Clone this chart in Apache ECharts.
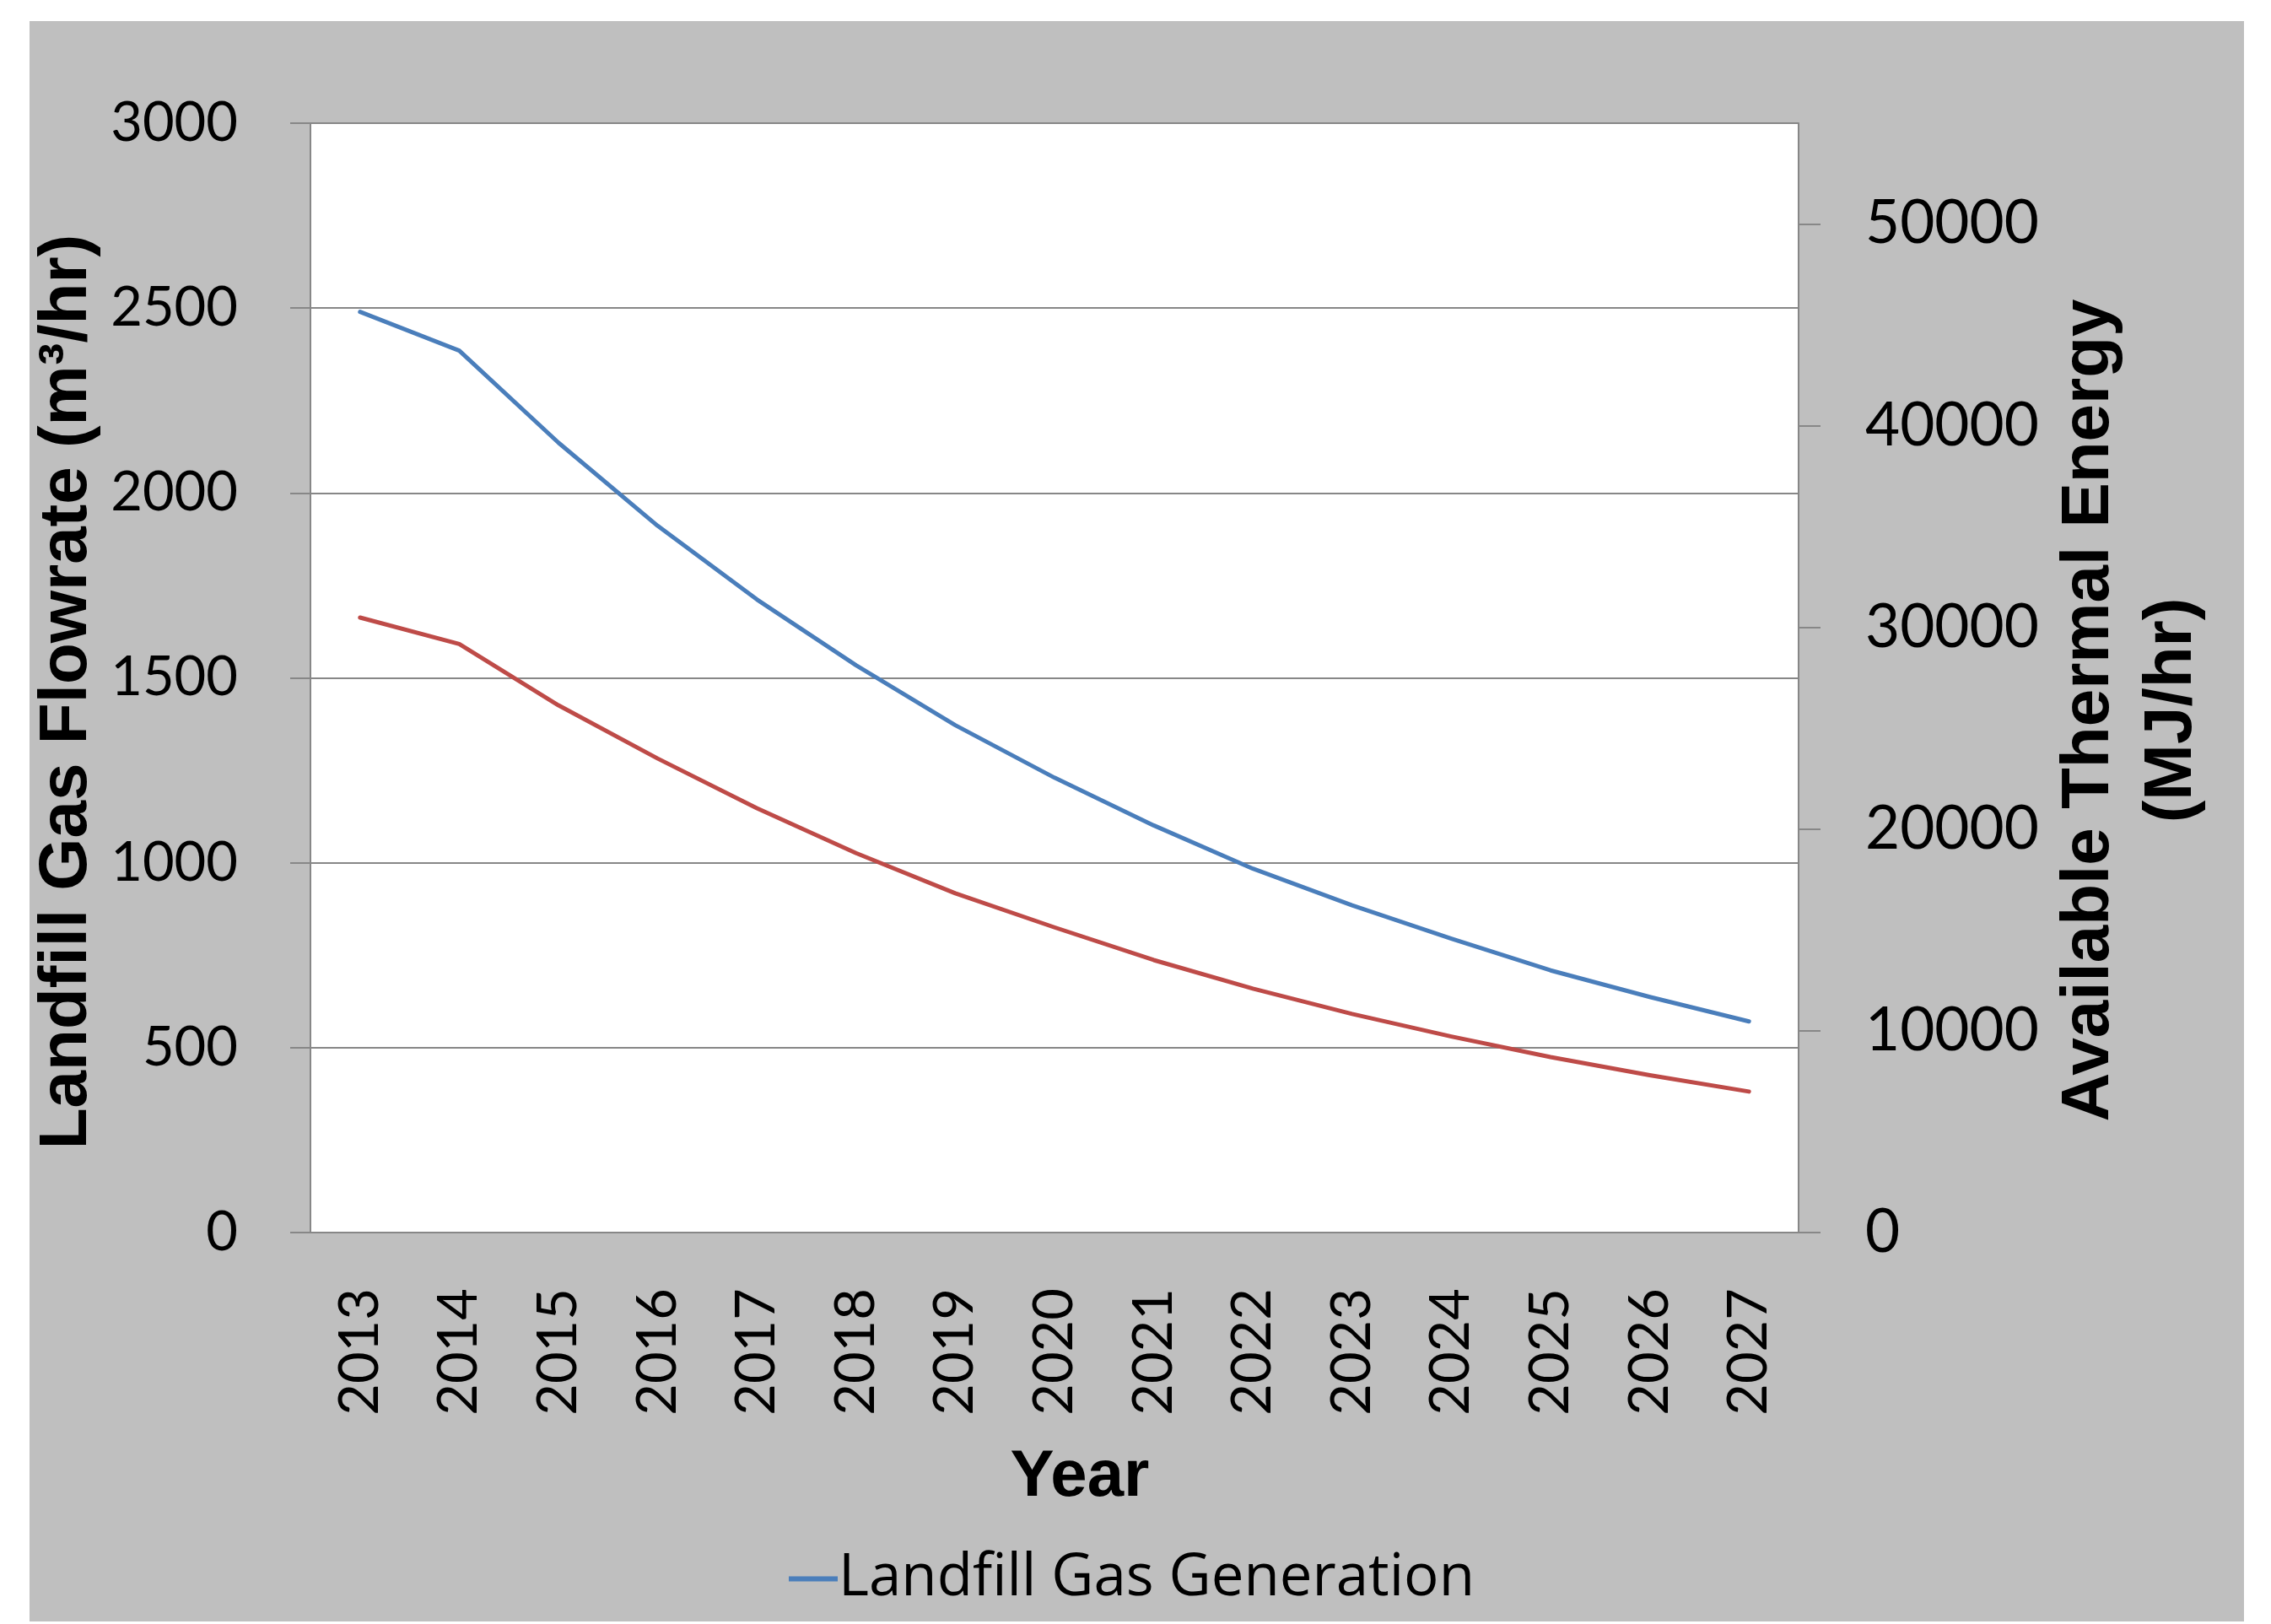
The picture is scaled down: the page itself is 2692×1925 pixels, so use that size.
<!DOCTYPE html>
<html>
<head>
<meta charset="utf-8">
<script src="https://cdn.jsdelivr.net/npm/echarts@6/dist/echarts.min.js"></script>
<style>
  html, body { margin: 0; padding: 0; background: #ffffff; }
  #frame { position: absolute; left: 35px; top: 25px; width: 2625px; height: 1897px; background: #bfbfbf; }
  #chart { position: absolute; left: 0; top: 0; width: 2692px; height: 1925px; }
</style>
</head>
<body>
<div id="frame"></div>
<div id="chart"></div>
<script>
// Projection years
const years = ['2013', '2014', '2015', '2016', '2017', '2018', '2019', '2020',
               '2021', '2022', '2023', '2024', '2025', '2026', '2027'];

// Landfill gas flowrate, m³/hr (left axis)
const gasFlow = [2490, 2385, 2136, 1911, 1712, 1534, 1372, 1230,
                 1101, 984, 885, 795, 709, 637, 571];

// Available thermal energy, MJ/hr (right axis)
const thermalEnergy = [30490, 29180, 26140, 23500, 21040, 18810, 16820, 15130,
                       13510, 12090, 10840, 9720, 8700, 7800, 6990];

// Tick values
const flowTicks = [0, 500, 1000, 1500, 2000, 2500, 3000];
const energyTicks = [0, 10000, 20000, 30000, 40000, 50000];

const AXIS_GREY = '#878787';
const LABEL_FONT = 'Lato';
const LEGEND_FONT = 'Open Sans';
const TITLE_FONT = 'Liberation Sans';
const plainNumber = v => String(v);

const chart = echarts.init(document.getElementById('chart'), null, { renderer: 'canvas' });

chart.setOption({
  backgroundColor: 'transparent',
  animation: false,
  grid: {
    left: 368, top: 146, right: 560, bottom: 464,
    show: true, backgroundColor: '#ffffff', borderWidth: 0,
    containLabel: false
  },
  legend: {
    data: ['Landfill Gas Generation'],
    left: 930, top: 1832,
    icon: 'rect', itemWidth: 58, itemHeight: 6, itemGap: 20,
    selectedMode: false,
    textStyle: { fontFamily: LEGEND_FONT, fontSize: 69, color: '#000000', padding: [0, 0, 0, -4] }
  },
  xAxis: {
    type: 'category',
    data: years,
    boundaryGap: true,
    axisLine: { show: true, lineStyle: { color: AXIS_GREY, width: 2 } },
    axisTick: { show: false },
    axisLabel: {
      interval: 0, rotate: 90, margin: 66,
      fontFamily: LABEL_FONT, fontSize: 65, color: '#000000',
      padding: [10, 0, 0, 0]
    },
    splitLine: { show: false },
    name: 'Year',
    nameLocation: 'middle',
    nameGap: 250,
    nameTextStyle: {
      fontFamily: TITLE_FONT, fontWeight: 'bold', fontSize: 78, color: '#000000',
      lineHeight: 80, padding: [0, 0, 0, 60]
    }
  },
  yAxis: [
    {
      type: 'value',
      position: 'left',
      min: flowTicks[0],
      max: flowTicks[flowTicks.length - 1],
      interval: 500,
      axisLine: { show: true, lineStyle: { color: AXIS_GREY, width: 2 } },
      axisTick: { show: true, inside: false, length: 24, lineStyle: { color: AXIS_GREY, width: 2 } },
      axisLabel: { margin: 86, formatter: plainNumber,
                   fontFamily: LABEL_FONT, fontSize: 65, color: '#000000' },
      splitLine: { show: true, lineStyle: { color: AXIS_GREY, width: 2 } },
      name: 'Landfill Gas Flowrate (m³/hr)',
      nameLocation: 'middle',
      nameGap: 208,
      nameRotate: 90,
      nameTextStyle: {
        fontFamily: TITLE_FONT, fontWeight: 'bold', fontSize: 80, color: '#000000',
        lineHeight: 80, padding: [0, 33, 0, 0]
      }
    },
    {
      type: 'value',
      position: 'right',
      min: 0,
      max: 55000,
      axisLine: { show: true, lineStyle: { color: AXIS_GREY, width: 2 } },
      axisTick: { show: true, inside: false, length: 26, customValues: energyTicks,
                  lineStyle: { color: AXIS_GREY, width: 2 } },
      axisLabel: { margin: 79, customValues: energyTicks, formatter: plainNumber,
                   fontFamily: LABEL_FONT, fontSize: 71, color: '#000000' },
      splitLine: { show: false },
      name: 'Available Thermal Energy\n(MJ/hr)',
      nameLocation: 'middle',
      nameGap: 274,
      nameRotate: 90,
      nameTextStyle: {
        fontFamily: TITLE_FONT, fontWeight: 'bold', fontSize: 80, color: '#000000',
        lineHeight: 98, align: 'center', padding: [0, 77, 0, 0]
      }
    }
  ],
  series: [
    {
      name: 'Landfill Gas Generation',
      type: 'line',
      yAxisIndex: 0,
      data: gasFlow,
      showSymbol: false,
      symbol: 'none',
      lineStyle: { color: '#4a7ebb', width: 5, cap: 'round', join: 'round' },
      itemStyle: { color: '#4a7ebb' },
      z: 3
    },
    {
      name: 'Available Thermal Energy',
      type: 'line',
      yAxisIndex: 1,
      data: thermalEnergy,
      showSymbol: false,
      symbol: 'none',
      lineStyle: { color: '#be4b48', width: 5, cap: 'round', join: 'round' },
      itemStyle: { color: '#be4b48' },
      z: 2
    }
  ]
});
</script>
</body>
</html>
